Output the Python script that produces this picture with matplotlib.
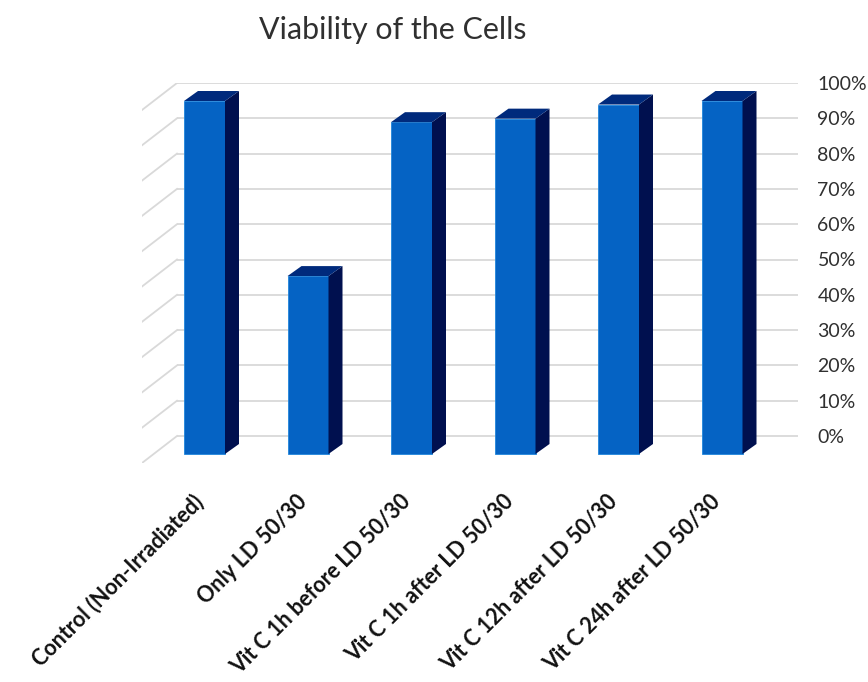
import matplotlib
matplotlib.use("Agg")
import matplotlib.pyplot as plt
from matplotlib.transforms import ScaledTranslation

categories = ["Control (Non-Irradiated)", "Only LD 50/30", "Vit C 1h before LD 50/30",
              "Vit C 1h after LD 50/30", "Vit C 12h after LD 50/30", "Vit C 24h after LD 50/30"]
viability = [100, 50.4, 94, 95, 99, 100]
tick_values = list(range(0, 101, 10))
tick_labels = [f"{t}%" for t in tick_values]
title = "Viability of the Cells"

W, H = 868, 682
fig = plt.figure(figsize=(W / 100, H / 100), dpi=100, facecolor="white")
# pixel frame of the plot area
L, R, T, B = 142, 798, 83, 463
ax = fig.add_axes([L / W, 1 - B / H, (R - L) / W, (B - T) / H])
px_x = 103.5            # pixels per category
px_y = 3.53             # pixels per percent
x0 = 204.5              # pixel of first category centre
ax.set_xlim((L - x0) / px_x, (R - x0) / px_x)
ax.set_ylim((436 - B) / px_y, (436 - T) / px_y)
ax.patch.set_alpha(0)
for s in ax.spines.values():
    s.set_visible(False)

wall_x = (177 - x0) / px_x
wall_dy = 27 / px_y
grid_c = "#d9d9d9"
for t in tick_values:
    ax.plot([wall_x, ax.get_xlim()[1]], [t, t], color=grid_c, lw=1.3, zorder=1, solid_capstyle="butt")
    ax.plot([ax.get_xlim()[0], wall_x], [t - wall_dy, t], color=grid_c, lw=1.3, zorder=1)

bw = 41 / px_x
dx = 14 / px_x
dy = 10 / px_y
base = (436 - 454) / px_y
xs = list(range(len(categories)))
ax.bar(xs, viability, width=bw, bottom=base, color="#0563c4", edgecolor="#1f86dc", linewidth=0.6, zorder=3)
for x, v in zip(xs, viability):
    r = x + bw / 2
    l = x - bw / 2
    top = base + v
    ax.fill([r, r + dx, r + dx, r], [base, base + dy, top + dy, top], color="#00104f", lw=0, zorder=3)
    ax.fill([l, l + dx, r + dx, r], [top, top + dy, top + dy, top], color="#002a7c", lw=0, zorder=3)

ax.yaxis.tick_right()
ax.set_yticks(tick_values, tick_labels, fontsize=14, family="Lato", color="#303030")
ax.tick_params(axis="y", length=0, pad=14)
ax.set_xticks(xs, categories, rotation=45, ha="right", rotation_mode="anchor",
              fontsize=15.5, family="Lato", fontweight="bold", color="#111111")
ax.tick_params(axis="x", length=0, pad=20)
for lab in ax.get_xticklabels():
    lab.set_transform(lab.get_transform() + ScaledTranslation(-12 / 100, 0, fig.dpi_scale_trans))

fig.text(393 / W, 1 - 30 / H, title, ha="center", va="center", fontsize=21.9, family="Lato", color="#303030")
fig.savefig("out.png", dpi=100, facecolor="white")
